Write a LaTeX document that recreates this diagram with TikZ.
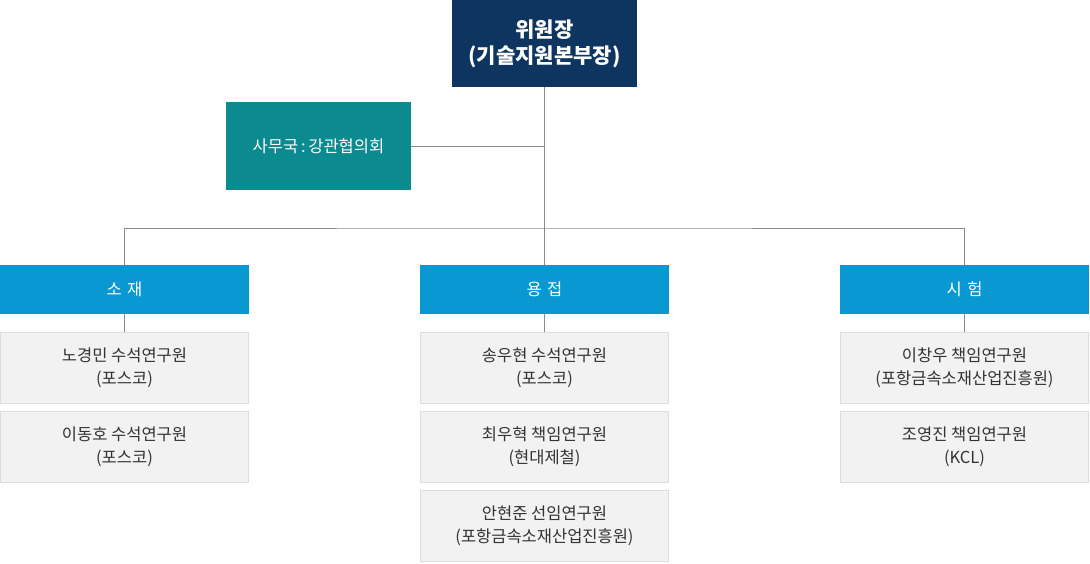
\documentclass[tikz,border=0pt]{standalone}
\usepackage{fontspec}
\setmainfont{Noto Sans CJK KR}
\usepackage{xcolor}
\definecolor{chairblue}{HTML}{0E3460}
\definecolor{officeteal}{HTML}{0B8A8F}
\definecolor{teamblue}{HTML}{0A98D3}
\definecolor{memberfill}{HTML}{F2F2F2}
\definecolor{memberline}{HTML}{DDDDDD}
\definecolor{textgray}{HTML}{333333}
\definecolor{linkgray}{HTML}{8A8A8A}

\begin{document}
\begin{tikzpicture}[x=1pt, y=-1pt,
  chairbox/.style={fill=chairblue, text=white, align=center, minimum width=185pt, minimum height=87pt, inner sep=0pt, font=\fontsize{21}{26}\selectfont\bfseries},
  officebox/.style={fill=officeteal, text=white, align=center, minimum width=185pt, minimum height=88pt, inner sep=0pt, font=\fontsize{16.5}{20}\selectfont},
  teambox/.style={fill=teamblue, text=white, align=center, minimum width=249pt, minimum height=49pt, inner sep=0pt, font=\fontsize{16.5}{20}\selectfont},
  memberbox/.style={fill=memberfill, draw=memberline, line width=0.8pt, text=textgray, align=center, minimum width=248pt, minimum height=71pt, inner sep=0pt, font=\fontsize{16.5}{23}\selectfont},
  link/.style={draw=linkgray, line width=0.8pt}]
  \useasboundingbox (0,0) rectangle (1090,564);

  \node[chairbox] (chair) at (544.5,43.5) {위원장\\(기술지원본부장)};
  \node[officebox] (office) at (318.5,146) {사무국\,:\,강관협의회};
  \coordinate (hub) at (544.5,228);

  \node[teambox] (mat) at (124.5,289.5) {소\,\,재};
  \node[teambox] (weld) at (544.5,289.5) {용\,\,접};
  \node[teambox] (test) at (964.5,289.5) {시\,\,험};

  % 소재
  \node[memberbox] (mat1) at (124.5,368) {노경민 수석연구원\\(포스코)};
  \node[memberbox] (mat2) at (124.5,447) {이동호 수석연구원\\(포스코)};
  % 용접
  \node[memberbox] (weld1) at (544.5,368) {송우현 수석연구원\\(포스코)};
  \node[memberbox] (weld2) at (544.5,447) {최우혁 책임연구원\\(현대제철)};
  \node[memberbox] (weld3) at (544.5,526) {안현준 선임연구원\\(포항금속소재산업진흥원)};
  % 시험
  \node[memberbox] (test1) at (964.5,368) {이창우 책임연구원\\(포항금속소재산업진흥원)};
  \node[memberbox] (test2) at (964.5,447) {조영진 책임연구원\\(KCL)};

  \path[link] (chair.south) -- (hub);
  \path[link] (office.east) -- (office.east -| chair.south);
  \path[link] (mat.north) |- (hub) -| (test.north);
  \path[link] (hub) -- (weld.north);
  \path[link] (mat.south) -- (mat1.north);
  \path[link] (weld.south) -- (weld1.north);
  \path[link] (test.south) -- (test1.north);
\end{tikzpicture}
\end{document}
